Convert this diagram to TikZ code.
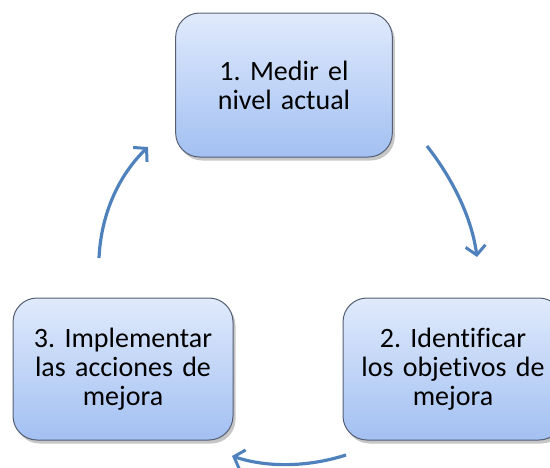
\documentclass[tikz,border=0pt]{standalone}
\usepackage{fontspec}
\setmainfont{Carlito}[Ligatures=CommonOff]
\usepackage{tikz}
\usetikzlibrary{arrows.meta, shadows}
\definecolor{flecha}{RGB}{79,129,189}
\definecolor{borde}{RGB}{85,95,115}
\definecolor{arriba}{RGB}{224,234,252}
\definecolor{abajo}{RGB}{162,192,242}
\frenchspacing

\begin{document}
\begin{tikzpicture}[x=1pt, y=-1pt,
        paso/.style = {draw=borde, line width=1pt, rounded corners=24pt,
            top color=arriba, bottom color=abajo,
            drop shadow={opacity=0.45, shadow xshift=2.5pt, shadow yshift=-3.5pt},
            minimum width=220pt, minimum height=142pt, text width=210pt,
            align=center, font=\fontsize{28}{29}\selectfont},
        ciclo/.style = {flecha, line width=3.2pt,
            -{Straight Barb[length=9pt, width=20pt, line width=3pt]}}]
        \useasboundingbox (0,0) rectangle (550,467);
        \node[paso, minimum width=214pt, minimum height=144pt] at (284, 85) (1) {1. Medir el\\nivel actual};
        \node[paso] at (453, 369) (2) {2. Identificar\\los objetivos de\\mejora};
        \node[paso] at (123, 369) (3) {3. Implementar\\las acciones de\\mejora};
        \coordinate (1s) at (427, 146);
        \coordinate (2e) at (477, 257);
        \coordinate (2s) at (346, 455);
        \coordinate (3e) at (232, 456);
        \coordinate (3s) at (99, 258);
        \coordinate (1e) at (148, 147);
        \draw[ciclo] (1s) .. controls (455, 182) and (472, 220) .. (2e);
        \draw[ciclo] (2s) .. controls (305, 468) and (265, 467) .. (3e);
        \draw[ciclo] (3s) .. controls (101, 215) and (118, 176) .. (1e);
        \end{tikzpicture}
\end{document}
